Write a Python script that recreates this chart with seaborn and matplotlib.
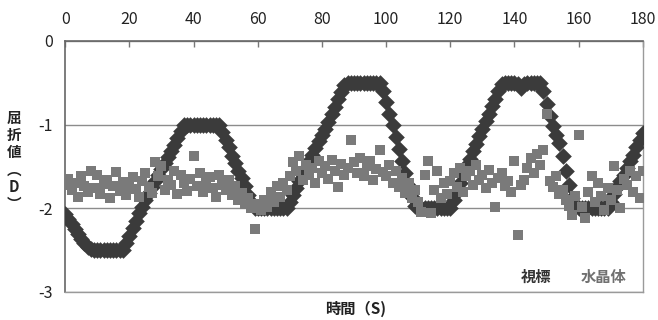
import matplotlib
matplotlib.use("Agg")
import matplotlib.pyplot as plt
import seaborn as sns
import pandas as pd

# time in seconds, one sample per second
time_s = list(range(0, 181))

# 視標 (target) refraction, D
target = [
    -2.07, -2.13, -2.19, -2.25, -2.31, -2.37, -2.42, -2.46, -2.49, -2.5,
    -2.5, -2.5, -2.5, -2.5, -2.5, -2.5, -2.5, -2.5, -2.5, -2.42,
    -2.33, -2.24, -2.15, -2.06, -1.98, -1.9, -1.82, -1.75, -1.67, -1.6,
    -1.53, -1.46, -1.39, -1.32, -1.24, -1.16, -1.08, -1.0, -1.0, -1.0,
    -1.0, -1.0, -1.0, -1.0, -1.0, -1.0, -1.0, -1.0, -1.0, -1.09,
    -1.18, -1.27, -1.37, -1.46, -1.55, -1.64, -1.74, -1.84, -1.93, -2.0,
    -2.0, -2.0, -2.0, -2.0, -2.0, -2.0, -2.0, -2.0, -2.0, -2.0,
    -1.92, -1.84, -1.76, -1.68, -1.6, -1.52, -1.44, -1.36, -1.28, -1.2,
    -1.12, -1.05, -0.97, -0.88, -0.79, -0.7, -0.61, -0.53, -0.5, -0.5,
    -0.5, -0.5, -0.5, -0.5, -0.5, -0.5, -0.5, -0.5, -0.5, -0.6,
    -0.73, -0.87, -1.01, -1.15, -1.29, -1.43, -1.58, -1.73, -1.87, -1.97,
    -2.0, -2.0, -2.0, -2.0, -2.0, -2.0, -2.0, -2.0, -2.0, -2.0,
    -2.0, -1.9, -1.8, -1.7, -1.6, -1.5, -1.41, -1.32, -1.23, -1.14,
    -1.05, -0.96, -0.87, -0.78, -0.69, -0.6, -0.52, -0.5, -0.5, -0.5,
    -0.5, -0.52, -0.56, -0.52, -0.5, -0.5, -0.5, -0.5, -0.5, -0.6,
    -0.75, -0.9, -1.02, -1.12, -1.22, -1.38, -1.55, -1.72, -1.88, -1.98,
    -2.0, -2.0, -2.0, -2.0, -2.0, -2.0, -2.0, -2.0, -2.0, -2.0,
    -1.92, -1.83, -1.75, -1.67, -1.6, -1.52, -1.44, -1.36, -1.27, -1.18, -1.1,
]

# 水晶体 (crystalline lens) refraction, D
lens = [
    -1.72, -1.65, -1.78, -1.70, -1.86, -1.62, -1.74, -1.80, -1.56, -1.76,
    -1.60, -1.83, -1.71, -1.66, -1.88, -1.74, -1.57, -1.79, -1.69, -1.84,
    -1.72, -1.63, -1.77, -1.87, -1.67, -1.58, -1.75, -1.82, -1.45, -1.62,
    -1.49, -1.78, -1.66, -1.72, -1.56, -1.83, -1.60, -1.70, -1.79, -1.65,
    -1.37, -1.74, -1.58, -1.81, -1.69, -1.63, -1.76, -1.86, -1.60, -1.72,
    -1.78, -1.66, -1.84, -1.73, -1.90, -1.82, -1.95, -1.88, -2.00, -2.25,
    -1.95, -2.02, -1.90, -1.98, -1.80, -1.93, -1.74, -1.86, -1.70, -1.78,
    -1.62, -1.45, -1.55, -1.38, -1.66, -1.48, -1.60, -1.52, -1.70, -1.43,
    -1.58, -1.50, -1.65, -1.42, -1.55, -1.75, -1.47, -1.60, -1.52, -1.19,
    -1.45, -1.58, -1.40, -1.62, -1.50, -1.44, -1.66, -1.53, -1.31, -1.57,
    -1.62, -1.48, -1.70, -1.56, -1.75, -1.64, -1.82, -1.70, -1.88, -1.78,
    -1.92, -2.05, -1.60, -1.43, -2.06, -1.78, -1.55, -1.88, -1.70, -1.83,
    -1.68, -1.58, -1.75, -1.52, -1.80, -1.62, -1.55, -1.72, -1.48, -1.66,
    -1.60, -1.76, -1.54, -1.70, -1.99, -1.64, -1.58, -1.73, -1.67, -1.80,
    -1.43, -2.32, -1.72, -1.66, -1.52, -1.40, -1.58, -1.35, -1.48, -1.31,
    -0.87, -1.68, -1.75, -1.62, -1.83, -1.78, -1.90, -1.97, -2.08, -1.85,
    -1.13, -1.98, -2.12, -1.80, -1.62, -1.93, -1.70, -1.85, -2.02, -1.76,
    -1.90, -1.50, -1.78, -2.00, -1.65, -1.72, -1.56, -1.80, -1.62, -1.88, -1.55,
]

x_ticks = [0, 20, 40, 60, 80, 100, 120, 140, 160, 180]
y_ticks = [0, -1, -2, -3]

df = pd.DataFrame({"time": time_s, "target": target, "lens": lens})

sns.set_theme(style="white")
plt.rcParams['font.family'] = ['Noto Sans CJK JP', 'DejaVu Sans']

fig = plt.figure(figsize=(6.58, 3.2), dpi=100)
ax = fig.add_axes([0.099, 0.0875, 0.878, 0.785])

sns.scatterplot(data=df, x="time", y="target", marker="D", color="#3b3b3b",
                s=72, linewidth=0, ax=ax, zorder=3)
sns.scatterplot(data=df, x="time", y="lens", marker="s", color="#7a7a7a",
                s=46, linewidth=0, ax=ax, zorder=4)

ax.set_xlim(0, 180)
ax.set_ylim(-3, 0)
ax.xaxis.tick_top()
ax.set_xticks(x_ticks)
ax.set_yticks(y_ticks)
ax.set_yticklabels([str(v) for v in y_ticks])
ax.tick_params(axis='x', direction='in', length=4, width=1, color='#777777',
               pad=9, labelsize=11.5, labelcolor='#222222')
ax.tick_params(axis='y', length=0, pad=9, labelsize=11.5, labelcolor='#222222')
ax.yaxis.grid(True, color='#8c8c8c', linewidth=1)
ax.set_axisbelow(True)
ax.set_xlabel("")
ax.set_ylabel("")
for side in ["top", "left"]:
    ax.spines[side].set_color('#666666')
    ax.spines[side].set_linewidth(1.2)
for side in ["bottom", "right"]:
    ax.spines[side].set_color('#9a9a9a')
    ax.spines[side].set_linewidth(1)

# legend as coloured text
ax.text(146.7, -2.815, "視標", color="#333333", fontsize=11, fontweight="bold",
        ha="center", va="center")
ax.text(167.9, -2.815, "水晶体", color="#707070", fontsize=11, fontweight="bold",
        ha="center", va="center")

fig.text(0.021, 0.497, "屈\n折\n値\n︵\nD\n︶", fontsize=10.5, fontweight="bold",
         ha="center", va="center", linespacing=1.1, color="#222222")
fig.text(0.54, 0.035, "時間（S)", fontsize=11, fontweight="bold",
         ha="center", va="center", color="#222222")

fig.savefig("out.png", dpi=100)
